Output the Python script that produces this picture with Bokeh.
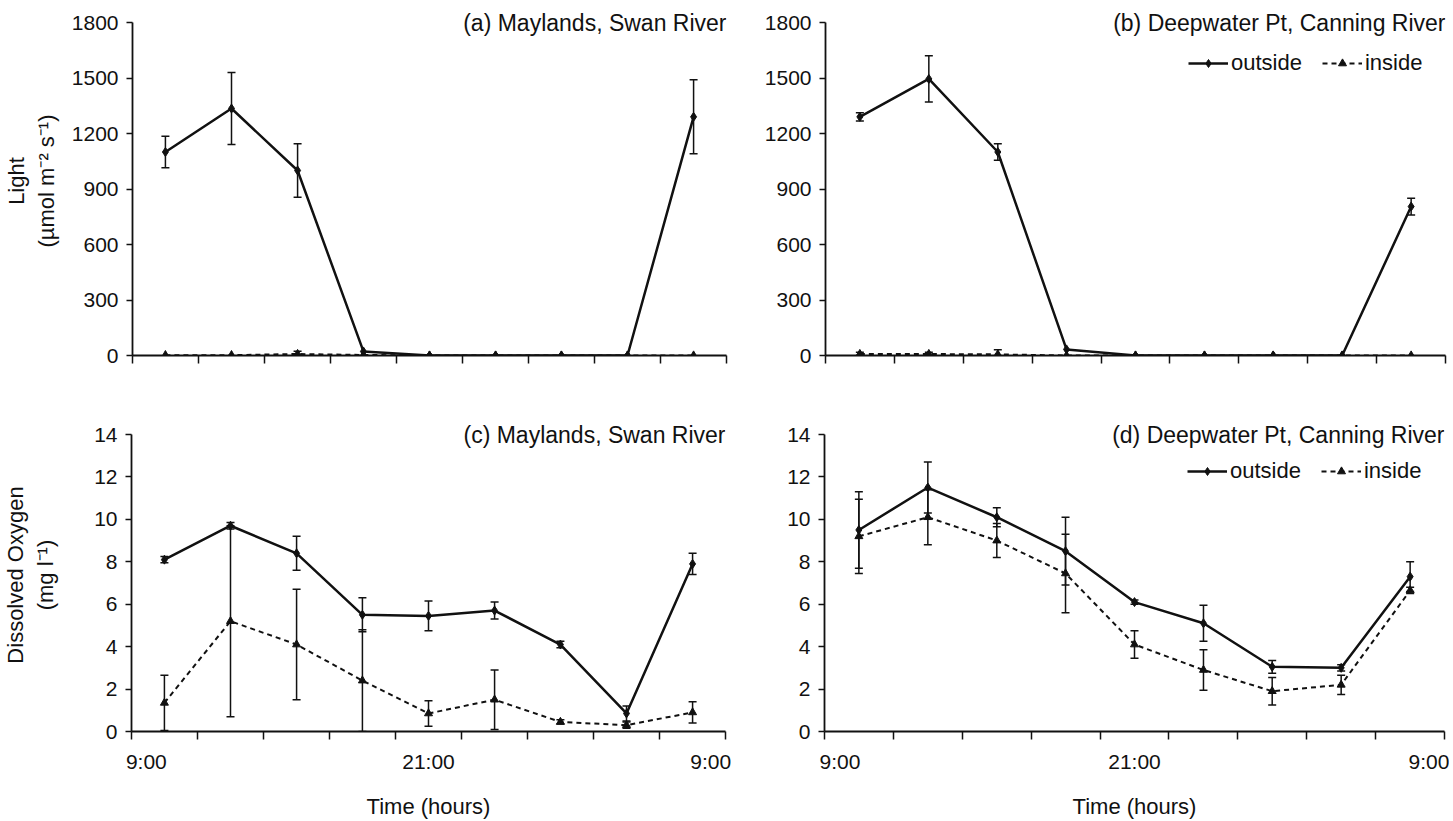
from bokeh.plotting import figure
from bokeh.models import (Range1d, FixedTicker, ColumnDataSource, Whisker, TeeHead,
                          Label, Legend, LegendItem)
from bokeh.layouts import column, row
from bokeh.embed import file_html
from bokeh.resources import INLINE

# ---------------- data ----------------
# sampling times, hours after 9:00 (points sit in the middle of each interval)
time_hours = [1.33, 4.0, 6.67, 9.33, 12.0, 14.67, 17.33, 20.0, 22.67]
interval_edges = [0, 2.67, 5.33, 8.0, 10.67, 13.33, 16.0, 18.67, 21.33, 24]
time_tick_pos = [0.6, 12, 23.4]
time_tick_labels = ["9:00", "21:00", "9:00"]

light_ticks = [0, 300, 600, 900, 1200, 1500, 1800]
oxygen_ticks = [0, 2, 4, 6, 8, 10, 12, 14]

# (a) Maylands, Swan River - light
light_a_out = [1100, 1335, 1000, 22, 0, 0, 0, 0, 1290]
light_a_out_err = [85, 195, 145, 0, 0, 0, 0, 0, 200]
light_a_in = [2, 2, 8, 3, 0, 0, 0, 0, 0]
light_a_in_err = [0, 0, 15, 0, 0, 0, 0, 0, 0]

# (b) Deepwater Pt, Canning River - light
light_b_out = [1290, 1495, 1100, 33, 0, 0, 0, 0, 805]
light_b_out_err = [22, 125, 45, 0, 0, 0, 0, 0, 45]
light_b_in = [8, 8, 6, 0, 0, 0, 0, 0, 0]
light_b_in_err = [10, 10, 25, 0, 0, 0, 0, 0, 0]

# (c) Maylands, Swan River - dissolved oxygen
do_c_out = [8.1, 9.7, 8.4, 5.5, 5.45, 5.7, 4.1, 0.85, 7.9]
do_c_out_err = [0.15, 0.15, 0.8, 0.8, 0.7, 0.4, 0.15, 0.35, 0.5]
do_c_in = [1.35, 5.2, 4.1, 2.4, 0.85, 1.5, 0.45, 0.3, 0.9]
do_c_in_err = [1.3, 4.5, 2.6, 2.4, 0.6, 1.4, 0.1, 0.15, 0.5]

# (d) Deepwater Pt, Canning River - dissolved oxygen
do_d_out = [9.5, 11.5, 10.1, 8.5, 6.1, 5.1, 3.05, 3.0, 7.3]
do_d_out_err = [1.8, 1.2, 0.45, 1.6, 0.1, 0.85, 0.3, 0.15, 0.7]
do_d_in = [9.2, 10.1, 9.0, 7.45, 4.1, 2.9, 1.9, 2.2, 6.65]
do_d_in_err = [1.75, 1.3, 0.8, 1.85, 0.65, 0.95, 0.65, 0.45, 0.15]

FONT = "Liberation Sans"
INK = "#111111"
EXTRA_PX = 16  # invisible headroom above the top tick so the panel titles are not clipped


def add_errors(p, ys, errs):
    xs = [x for x, e in zip(time_hours, errs) if e > 0]
    up = [y + e for y, e in zip(ys, errs) if e > 0]
    lo = [max(y - e, 0) for y, e in zip(ys, errs) if e > 0]
    src = ColumnDataSource(dict(x=xs, upper=up, lower=lo))
    w = Whisker(source=src, base="x", upper="upper", lower="lower",
                dimension="height", line_color=INK, line_width=1.5,
                upper_head=TeeHead(size=8, line_color=INK, line_width=1.5),
                lower_head=TeeHead(size=8, line_color=INK, line_width=1.5))
    p.add_layout(w)


def panel(title, out, out_err, inn, inn_err, ymax, yticks, ylabel, legend,
          bottom, fw, fh, bl, br, bt, bb, label_standoff):
    fh_total = fh + EXTRA_PX
    y_end = ymax * fh_total / fh
    p = figure(frame_width=fw, frame_height=fh_total, output_backend="svg",
               toolbar_location=None, x_range=Range1d(0, 24),
               y_range=Range1d(0, y_end), min_border_left=bl,
               min_border_right=br, min_border_top=bt, min_border_bottom=bb)
    p.outline_line_color = None
    p.xgrid.visible = False
    p.ygrid.visible = False
    p.background_fill_color = "white"
    p.border_fill_color = "white"

    # x axis
    xa = p.xaxis[0]
    if bottom:
        xa.ticker = FixedTicker(ticks=time_tick_pos, minor_ticks=interval_edges)
        xa.major_label_overrides = {k: v for k, v in zip(time_tick_pos, time_tick_labels)}
        xa.axis_label = "Time (hours)"
        xa.axis_label_text_font = FONT
        xa.axis_label_text_font_size = "22px"
        xa.axis_label_text_font_style = "normal"
        xa.axis_label_text_color = INK
        xa.axis_label_standoff = 18
    else:
        xa.ticker = FixedTicker(ticks=[], minor_ticks=interval_edges)
    xa.major_tick_in = 0
    xa.major_tick_out = 0
    xa.minor_tick_in = 0
    xa.minor_tick_out = 8
    xa.minor_tick_line_width = 1.5
    xa.minor_tick_line_color = INK
    xa.axis_line_width = 1.8
    xa.axis_line_color = INK
    xa.major_label_text_font = FONT
    xa.major_label_text_font_size = "21px"
    xa.major_label_text_color = INK
    xa.major_label_standoff = 10

    # y axis
    ya = p.yaxis[0]
    ya.ticker = FixedTicker(ticks=yticks, minor_ticks=[])
    ya.bounds = (0, ymax)
    ya.major_tick_in = 0
    ya.major_tick_out = 6
    ya.major_tick_line_width = 1.5
    ya.major_tick_line_color = INK
    ya.minor_tick_out = 0
    ya.minor_tick_in = 0
    ya.axis_line_width = 1.8
    ya.axis_line_color = INK
    ya.major_label_text_font = FONT
    ya.major_label_text_font_size = "21px"
    ya.major_label_text_color = INK
    ya.major_label_standoff = 8
    if ylabel:
        ya.axis_label = ylabel
        ya.axis_label_text_font = FONT
        ya.axis_label_text_font_size = "22px"
        ya.axis_label_text_font_style = "normal"
        ya.axis_label_text_color = INK
        ya.axis_label_standoff = label_standoff

    add_errors(p, out, out_err)
    add_errors(p, inn, inn_err)

    lo = p.line(time_hours, out, line_color=INK, line_width=2.5)
    so = p.scatter(time_hours, out, marker="diamond", size=9, fill_color=INK,
                   line_color=INK)
    li = p.line(time_hours, inn, line_color=INK, line_width=2.0, line_dash="5 4")
    si = p.scatter(time_hours, inn, marker="triangle", size=8, fill_color=INK,
                   line_color=INK)

    p.add_layout(Label(x=24, y=ymax, text=title, text_align="right",
                       text_baseline="middle", text_font=FONT,
                       text_font_size="23px", text_color=INK))

    if legend:
        leg = Legend(items=[LegendItem(label="outside", renderers=[lo, so]),
                            LegendItem(label="inside", renderers=[li, si])],
                     location=legend, orientation="horizontal",
                     label_text_font=FONT, label_text_font_size="22px",
                     label_text_color=INK, glyph_width=40, glyph_height=20,
                     label_height=20, label_standoff=3, spacing=20, padding=0,
                     margin=0, border_line_color=None, background_fill_alpha=0)
        p.add_layout(leg)
    return p


pa = panel("(a) Maylands, Swan River", light_a_out, light_a_out_err,
           light_a_in, light_a_in_err, 1800, light_ticks,
           "Light\n(\u00b5mol m\u207b\u00b2 s\u207b\u00b9)", None, False,
           594, 333, 125, 25, 6, 30, 10)
pb = panel("(b) Deepwater Pt, Canning River", light_b_out, light_b_out_err,
           light_b_in, light_b_in_err, 1800, light_ticks, None, (363, 279),
           False, 620, 333, 74, 5, 6, 30, 0)
pc = panel("(c) Maylands, Swan River", do_c_out, do_c_out_err,
           do_c_in, do_c_in_err, 14, oxygen_ticks,
           "Dissolved Oxygen\n(mg l\u207b\u00b9)", None, True,
           594, 297, 125, 25, 33, 74, 33)
pd_ = panel("(d) Deepwater Pt, Canning River", do_d_out, do_d_out_err,
            do_d_in, do_d_in_err, 14, oxygen_ticks, None, (363, 247),
            True, 620, 297, 74, 5, 33, 74, 0)

layout = column(row(pa, pb), row(pc, pd_))
open("out.html", "w").write(file_html(layout, INLINE))
